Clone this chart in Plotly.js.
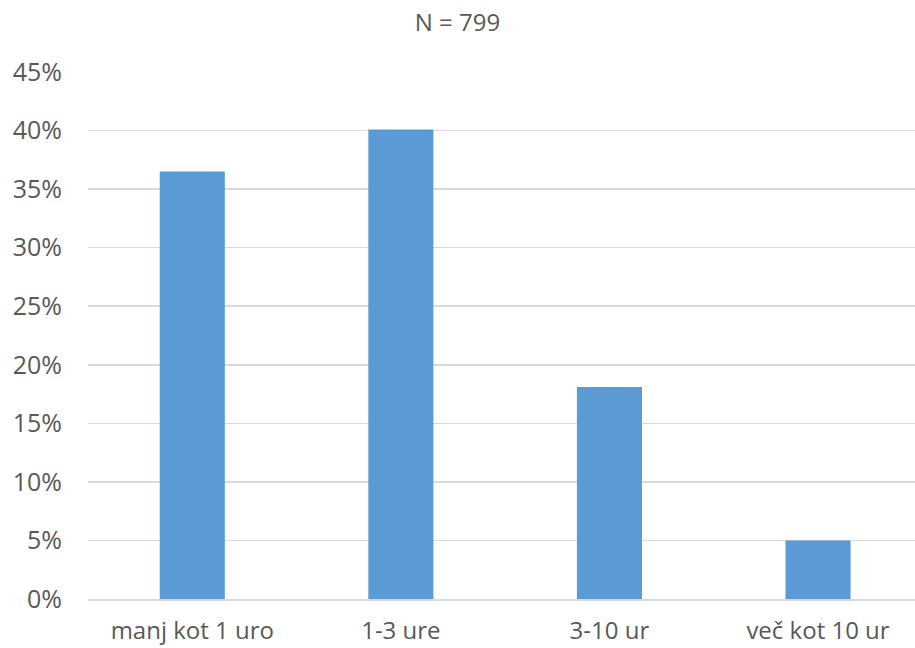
<!DOCTYPE html>
<html>
<head>
<meta charset="utf-8">
<script src="https://cdn.plot.ly/plotly-3.0.1.min.js"></script>
<style>html,body{margin:0;padding:0;background:#fff;}#chart{width:915px;height:648px;}</style>
</head>
<body>
<div id="chart"></div>
<script>
const categories = ["manj kot 1 uro", "1-3 ure", "3-10 ur", "več kot 10 ur"];
const values = [0.365, 0.401, 0.181, 0.050];
const yTickVals = [0, 0.05, 0.10, 0.15, 0.20, 0.25, 0.30, 0.35, 0.40, 0.45];
const yTickText = ["0%", "5%", "10%", "15%", "20%", "25%", "30%", "35%", "40%", "45%"];
const chartTitle = "N = 799";

const fam = "Open Sans, Noto Sans, sans-serif";
const grey = "#595959";

Plotly.newPlot("chart", [{
  type: "bar",
  x: [0, 1, 2, 3],
  y: values,
  marker: {color: "#5B9BD5"},
  hoverinfo: "none"
}], {
  width: 915, height: 648,
  margin: {l: 88, r: 0, t: 72, b: 49, pad: 0},
  paper_bgcolor: "#fff", plot_bgcolor: "#fff",
  bargap: 0.688,
  showlegend: false,
  font: {family: fam, size: 24, color: grey},
  title: {text: chartTitle, x: 0.5, xanchor: "center", y: 0.965, yanchor: "middle", font: {family: fam, size: 24, color: grey}},
  xaxis: {
    range: [-0.5, 3.465],
    tickmode: "array", tickvals: [0, 1, 2, 3], ticktext: categories,
    showgrid: false, zeroline: false,
    showline: true, linecolor: "#D9D9D9", linewidth: 1.5,
    ticks: "", ticklabelstandoff: 10,
    tickfont: {family: fam, size: 24, color: grey}, fixedrange: true
  },
  yaxis: {
    range: [0, 0.45],
    tickmode: "array", tickvals: yTickVals, ticktext: yTickText,
    showgrid: true, gridcolor: "#D9D9D9", gridwidth: 1.5,
    zeroline: false, showline: false,
    ticks: "", ticklabelstandoff: 25,
    tickfont: {family: fam, size: 25, color: grey}, fixedrange: true
  }
}, {staticPlot: true});
</script>
</body>
</html>
